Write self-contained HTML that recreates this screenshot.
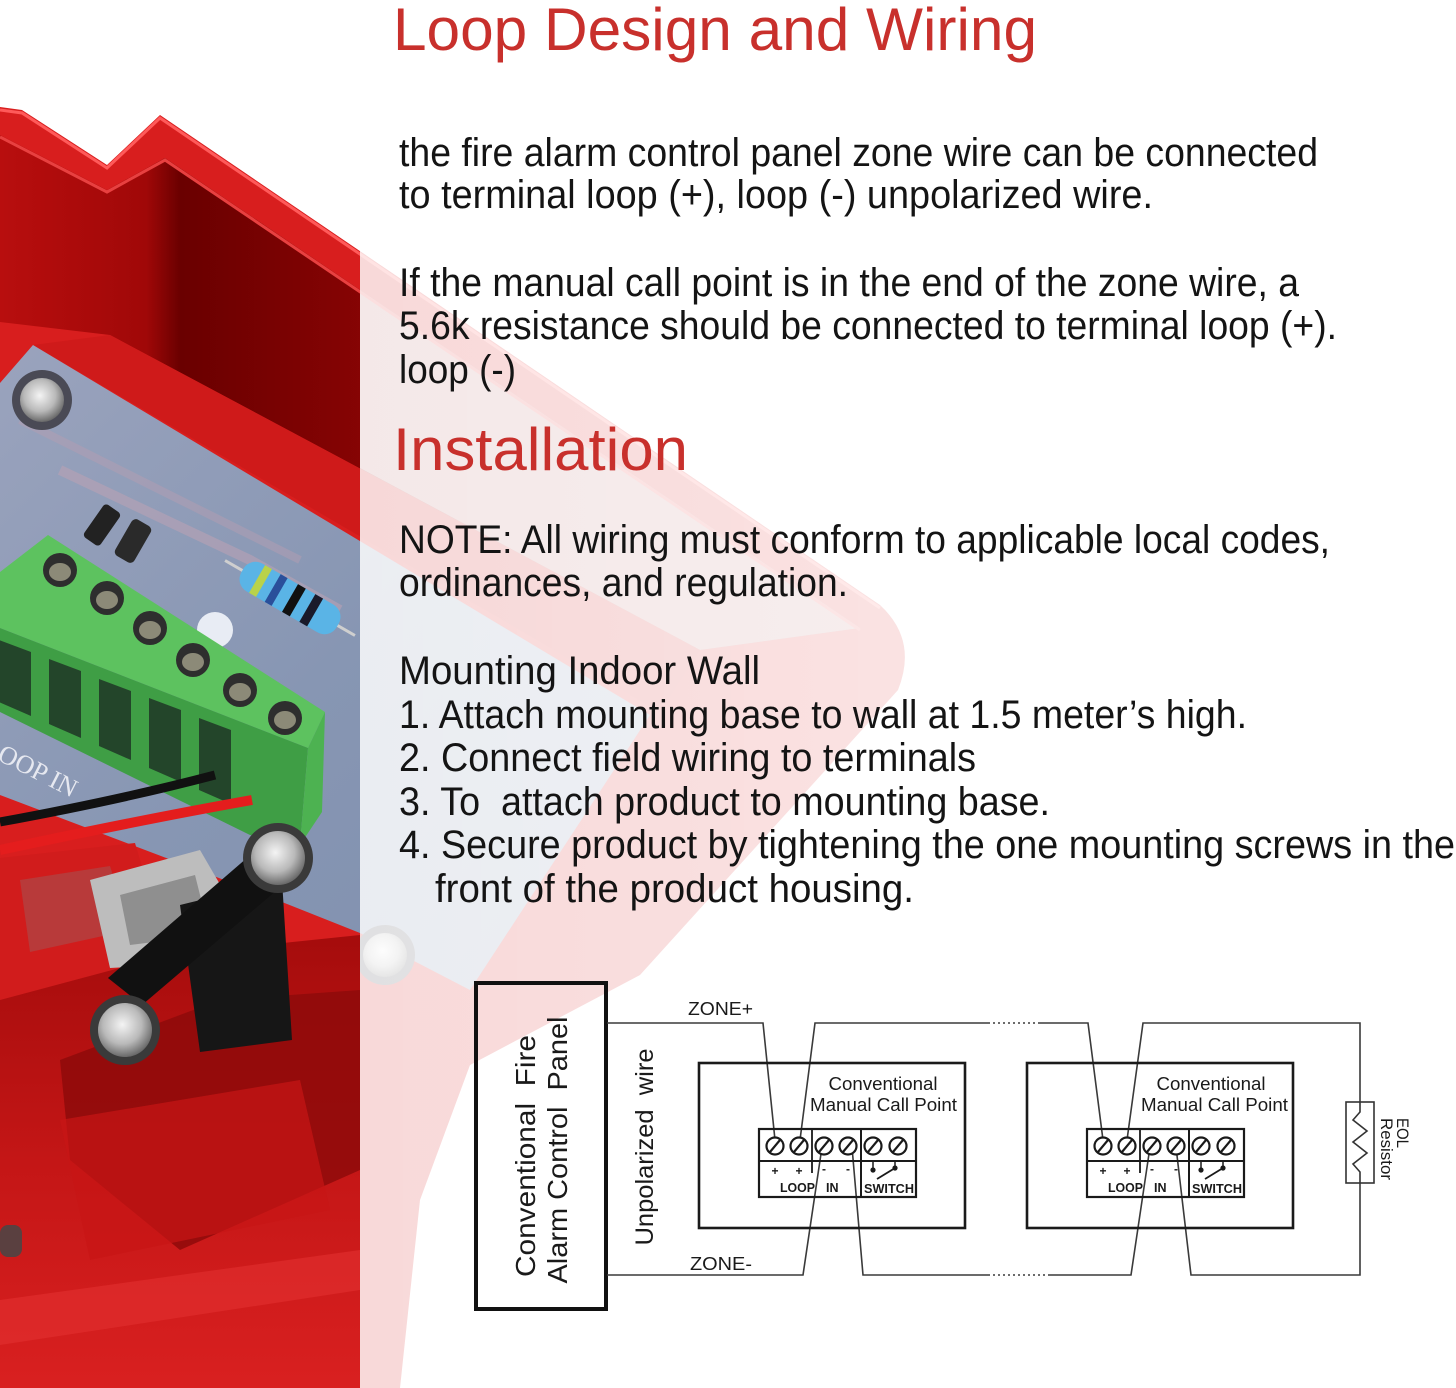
<!DOCTYPE html>
<html>
<head>
<meta charset="utf-8">
<style>
  html,body{margin:0;padding:0;background:#fff;}
  svg{display:block;}
  .body{font-family:"Liberation Sans",sans-serif;font-size:40px;fill:#141414;}
  .head{font-family:"Liberation Sans",sans-serif;font-size:60px;fill:#c8302c;}
  .dg{font-family:"Liberation Sans",sans-serif;fill:#1a1a1a;}
</style>
</head>
<body>
<svg width="1456" height="1388" viewBox="0 0 1456 1388" xmlns="http://www.w3.org/2000/svg">
  <defs>
    <linearGradient id="wallG" x1="0" y1="0" x2="1" y2="0">
      <stop offset="0" stop-color="#b80e0e"/>
      <stop offset="0.17" stop-color="#a00808"/>
      <stop offset="0.21" stop-color="#6a0000"/>
      <stop offset="0.45" stop-color="#8a0404"/>
      <stop offset="1" stop-color="#a60a0a"/>
    </linearGradient>
    <linearGradient id="pcbG" x1="0" y1="0" x2="1" y2="1">
      <stop offset="0" stop-color="#9aa3bd"/>
      <stop offset="0.5" stop-color="#8796b3"/>
      <stop offset="1" stop-color="#7f8fae"/>
    </linearGradient>
    <radialGradient id="screwG" cx="0.45" cy="0.4" r="0.6">
      <stop offset="0" stop-color="#f4f4f4"/>
      <stop offset="0.6" stop-color="#b9b9b9"/>
      <stop offset="1" stop-color="#6a6a6a"/>
    </radialGradient>
    <linearGradient id="lowG" x1="0" y1="0" x2="0" y2="1">
      <stop offset="0" stop-color="#a50c0c"/>
      <stop offset="0.5" stop-color="#c41616"/>
      <stop offset="1" stop-color="#d92020"/>
    </linearGradient>
    <linearGradient id="fadeG" x1="360" y1="0" x2="1000" y2="0" gradientUnits="userSpaceOnUse">
      <stop offset="0" stop-color="#ffffff" stop-opacity="0.83"/>
      <stop offset="1" stop-color="#ffffff" stop-opacity="0.88"/>
    </linearGradient>
  </defs>

  <rect x="0" y="0" width="1456" height="1388" fill="#ffffff"/>

  <!-- ================= PHOTO (approximation) ================= -->
  <path d="M0,107 L22,110 L107,165 L160,115 L880,605 Q918,640 898,690 L640,975 L470,1065 L420,1200 L400,1388 L0,1388 Z" fill="#d81e1e"/>
  <polygon points="0,135 107,190 165,158 860,628 700,650 110,335 0,322" fill="url(#wallG)"/>
  <polygon points="360,290 860,628 700,650 360,468" fill="#c07a7a"/>
  <polyline points="0,110 22,113 107,168 160,118 880,608" fill="none" stroke="#ff5a5a" stroke-width="3"/>
  <polyline points="0,137 107,192 165,160 860,630" fill="none" stroke="#e84040" stroke-width="3"/>
  <polygon points="110,335 700,650 660,712 33,345" fill="#cf1a1a"/>
  <!-- PCB -->
  <polygon points="33,345 650,715 470,990 360,933 277,900 0,795 0,383" fill="url(#pcbG)"/>
  <polyline points="60,470 250,560 340,610" fill="none" stroke="#b9a2b4" stroke-width="10" opacity="0.6"/>
  <polyline points="20,420 300,560" fill="none" stroke="#b49db2" stroke-width="8" opacity="0.5"/>
  <circle cx="42" cy="400" r="30" fill="#4a4a55"/>
  <circle cx="42" cy="400" r="22" fill="url(#screwG)"/>
  <circle cx="385" cy="955" r="30" fill="#4a4a55"/>
  <circle cx="385" cy="955" r="22" fill="url(#screwG)"/>
  <rect x="82" y="515" width="40" height="20" rx="4" fill="#222" transform="rotate(-55 102 525)"/>
  <rect x="112" y="530" width="42" height="22" rx="5" fill="#2a2a2a" transform="rotate(-60 133 541)"/>
  <g transform="rotate(30 290 598)">
    <line x1="215" y1="598" x2="365" y2="598" stroke="#cfcfcf" stroke-width="3"/>
    <rect x="235" y="582" width="110" height="32" rx="14" fill="#5ab4e6"/>
    <rect x="252" y="582" width="8" height="32" fill="#b9d24a"/>
    <rect x="270" y="582" width="8" height="32" fill="#2a4f9a"/>
    <rect x="290" y="582" width="9" height="32" fill="#111"/>
    <rect x="310" y="582" width="9" height="32" fill="#1a1a2a"/>
  </g>
  <circle cx="215" cy="630" r="18" fill="#e8ecf4"/>
  <!-- green terminal block -->
  <polygon points="48,535 325,712 308,748 0,628 0,572" fill="#5dc25f"/>
  <polygon points="0,628 308,748 300,845 250,835 0,712" fill="#3f9e45"/>
  <polygon points="308,748 325,712 322,812 300,845" fill="#4db251"/>
  <polygon points="-1,640 31,652 31,716 -1,702" fill="#23452a"/>
  <polygon points="49,659 81,671 81,738 49,724" fill="#23452a"/>
  <polygon points="99,679 131,691 131,760 99,746" fill="#23452a"/>
  <polygon points="149,698 181,710 181,782 149,768" fill="#23452a"/>
  <polygon points="199,718 231,730 231,804 199,790" fill="#23452a"/>
  <g fill="#2e2e2e">
    <circle cx="60" cy="570" r="17"/><circle cx="107" cy="598" r="17"/><circle cx="150" cy="628" r="17"/>
    <circle cx="193" cy="660" r="17"/><circle cx="240" cy="690" r="17"/><circle cx="285" cy="718" r="17"/>
  </g>
  <g fill="#8c8a78">
    <ellipse cx="60" cy="572" rx="11" ry="9"/><ellipse cx="107" cy="600" rx="11" ry="9"/><ellipse cx="150" cy="630" rx="11" ry="9"/>
    <ellipse cx="193" cy="662" rx="11" ry="9"/><ellipse cx="240" cy="692" rx="11" ry="9"/><ellipse cx="285" cy="720" rx="11" ry="9"/>
  </g>
  <text transform="translate(-18,752) rotate(27)" font-family="Liberation Serif,serif" font-size="26" fill="#e6e8f0">LOOP  IN</text>
  <path d="M0,822 Q120,800 215,775" fill="none" stroke="#111" stroke-width="9"/>
  <path d="M0,850 Q150,818 252,800" fill="none" stroke="#e41d1d" stroke-width="10"/>
  <polygon points="0,858 135,843 168,955 0,1000" fill="#d11c1c"/>
  <polygon points="20,880 110,866 130,930 30,952" fill="#b83a3a"/>
  <polygon points="90,880 200,850 232,905 220,962 110,968" fill="#bdbdbd"/>
  <polygon points="120,895 195,875 210,935 130,945" fill="#8f8f8f"/>
  <polygon points="0,1000 168,955 360,935 360,1388 0,1388" fill="url(#lowG)"/>
  <polygon points="60,1060 220,1000 360,990 360,1170 180,1250 70,1160" fill="#8e0b0b" opacity="0.85"/>
  <polygon points="60,1120 300,1080 330,1210 90,1260" fill="#c81616" opacity="0.7"/>
  <rect x="0" y="1225" width="22" height="32" rx="8" fill="#5a4040"/>
  <polygon points="0,1300 360,1250 360,1290 0,1345" fill="#e23030" opacity="0.6"/>
  <polygon points="180,905 282,880 292,1040 200,1052" fill="#161616"/>
  <polygon points="262,845 298,872 142,1005 108,978" fill="#111"/>
  <circle cx="278" cy="858" r="35" fill="#3a3a3a"/>
  <circle cx="278" cy="858" r="27" fill="url(#screwG)"/>
  <circle cx="125" cy="1030" r="35" fill="#3a3a3a"/>
  <circle cx="125" cy="1030" r="27" fill="url(#screwG)"/>

  <!-- fade overlay -->
  <rect x="360" y="0" width="1096" height="1388" fill="url(#fadeG)"/>

  <!-- ================= TEXT ================= -->
  <text class="head" x="393" y="50" textLength="644" lengthAdjust="spacingAndGlyphs">Loop Design and Wiring</text>

  <text class="body" x="399" y="166" textLength="919" lengthAdjust="spacingAndGlyphs">the fire alarm control panel zone wire can be connected</text>
  <text class="body" x="399" y="208" textLength="754" lengthAdjust="spacingAndGlyphs">to terminal loop (+), loop (-) unpolarized wire.</text>
  <text class="body" x="399" y="296" textLength="900" lengthAdjust="spacingAndGlyphs">If the manual call point is in the end of the zone wire, a</text>
  <text class="body" x="399" y="339" textLength="938" lengthAdjust="spacingAndGlyphs">5.6k resistance should be connected to terminal loop (+).</text>
  <text class="body" x="399" y="383" textLength="117" lengthAdjust="spacingAndGlyphs">loop (-)</text>

  <text class="head" x="393" y="470" textLength="295" lengthAdjust="spacingAndGlyphs">Installation</text>

  <text class="body" x="399" y="553" textLength="931" lengthAdjust="spacingAndGlyphs">NOTE: All wiring must conform to applicable local codes,</text>
  <text class="body" x="399" y="596" textLength="449" lengthAdjust="spacingAndGlyphs">ordinances, and regulation.</text>

  <text class="body" x="399" y="684" textLength="361" lengthAdjust="spacingAndGlyphs">Mounting Indoor Wall</text>
  <text class="body" x="399" y="728" textLength="848" lengthAdjust="spacingAndGlyphs">1. Attach mounting base to wall at 1.5 meter’s high.</text>
  <text class="body" x="399" y="771" textLength="577" lengthAdjust="spacingAndGlyphs">2. Connect field wiring to terminals</text>
  <text class="body" x="399" y="815" textLength="651" lengthAdjust="spacingAndGlyphs" style="white-space:pre">3. To  attach product to mounting base.</text>
  <text class="body" x="399" y="858" textLength="1056" lengthAdjust="spacingAndGlyphs">4. Secure product by tightening the one mounting screws in the</text>
  <text class="body" x="435" y="902" textLength="479" lengthAdjust="spacingAndGlyphs">front of the product housing.</text>

  <!-- ================= DIAGRAM ================= -->
  <rect x="476" y="983" width="130" height="326" fill="none" stroke="#111" stroke-width="4"/>
  <text class="dg" transform="translate(535,1156) rotate(-90)" font-size="28" text-anchor="middle" textLength="242" lengthAdjust="spacingAndGlyphs" style="white-space:pre">Conventional  Fire</text>
  <text class="dg" transform="translate(567,1150) rotate(-90)" font-size="28" text-anchor="middle" textLength="267" lengthAdjust="spacingAndGlyphs" style="white-space:pre">Alarm Control  Panel</text>
  <text class="dg" transform="translate(653,1147) rotate(-90)" font-size="25" text-anchor="middle" textLength="197" lengthAdjust="spacingAndGlyphs" style="white-space:pre">Unpolarized  wire</text>

  <text class="dg" x="688" y="1015" font-size="18.5" textLength="65" lengthAdjust="spacingAndGlyphs">ZONE+</text>
  <text class="dg" x="690" y="1270" font-size="18.5" textLength="62" lengthAdjust="spacingAndGlyphs">ZONE-</text>

  <g fill="none" stroke="#3a3a3a" stroke-width="1.6">
    <polyline points="607,1023 763,1023 775,1140"/>
    <polyline points="800,1140 815,1023 988,1023"/>
    <line x1="988" y1="1023" x2="1040" y2="1023" stroke-dasharray="2,3"/>
    <polyline points="1040,1023 1088,1023 1103,1140"/>
    <polyline points="1127,1140 1143,1023 1360,1023 1360,1102"/>
    <polyline points="1360,1183 1360,1275 1191,1275 1176,1147"/>
    <polyline points="607,1275 803,1275 822,1147"/>
    <polyline points="852,1147 863,1275 988,1275"/>
    <line x1="988" y1="1275" x2="1050" y2="1275" stroke-dasharray="2,3"/>
    <polyline points="1050,1275 1131,1275 1150,1147"/>
  </g>

  <rect x="1346" y="1102" width="28" height="81" fill="none" stroke="#333" stroke-width="1.6"/>
  <polyline points="1360,1102 1360,1112 1353,1120 1367,1131 1353,1142 1367,1153 1353,1164 1360,1172 1360,1183" fill="none" stroke="#333" stroke-width="1.6"/>
  <text class="dg" transform="translate(1397,1118) rotate(90)" font-size="17" textLength="30" lengthAdjust="spacingAndGlyphs">EOL</text>
  <text class="dg" transform="translate(1381,1118) rotate(90)" font-size="17" textLength="62" lengthAdjust="spacingAndGlyphs">Resistor</text>

  <g>
    <rect x="699" y="1063" width="266" height="165" fill="none" stroke="#1a1a1a" stroke-width="2.6"/>
    <text class="dg" x="883" y="1090" font-size="18" text-anchor="middle" textLength="109" lengthAdjust="spacingAndGlyphs">Conventional</text>
    <text class="dg" x="810" y="1111" font-size="18" textLength="147" lengthAdjust="spacingAndGlyphs">Manual Call Point</text>
    <rect x="759" y="1129" width="157" height="68" fill="none" stroke="#1a1a1a" stroke-width="2.2"/>
    <line x1="759" y1="1161" x2="916" y2="1161" stroke="#1a1a1a" stroke-width="2"/>
    <line x1="861" y1="1129" x2="861" y2="1197" stroke="#1a1a1a" stroke-width="2"/>
    <line x1="812" y1="1129" x2="812" y2="1173" stroke="#1a1a1a" stroke-width="1.8"/>
    <g fill="#fff" stroke="#1a1a1a" stroke-width="2.2">
      <circle cx="775" cy="1146" r="8.5"/><circle cx="799" cy="1146" r="8.5"/><circle cx="824" cy="1146" r="8.5"/>
      <circle cx="848" cy="1146" r="8.5"/><circle cx="873" cy="1146" r="8.5"/><circle cx="898" cy="1146" r="8.5"/>
    </g>
    <g stroke="#1a1a1a" stroke-width="2.2">
      <line x1="770" y1="1152" x2="780" y2="1140"/><line x1="794" y1="1152" x2="804" y2="1140"/>
      <line x1="819" y1="1152" x2="829" y2="1140"/><line x1="843" y1="1152" x2="853" y2="1140"/>
      <line x1="868" y1="1152" x2="878" y2="1140"/><line x1="893" y1="1152" x2="903" y2="1140"/>
    </g>
    <text class="dg" x="775" y="1175" font-size="12" font-weight="bold" text-anchor="middle">+</text>
    <text class="dg" x="799" y="1175" font-size="12" font-weight="bold" text-anchor="middle">+</text>
    <text class="dg" x="824" y="1173" font-size="12" font-weight="bold" text-anchor="middle">-</text>
    <text class="dg" x="848" y="1173" font-size="12" font-weight="bold" text-anchor="middle">-</text>
    <line x1="873" y1="1161" x2="873" y2="1169" stroke="#1a1a1a" stroke-width="1.5"/>
    <line x1="895" y1="1161" x2="895" y2="1168" stroke="#1a1a1a" stroke-width="1.5"/>
    <circle cx="873" cy="1170" r="2.6" fill="#1a1a1a"/>
    <circle cx="895" cy="1168" r="2.6" fill="#1a1a1a"/>
    <line x1="877" y1="1179" x2="895" y2="1168" stroke="#1a1a1a" stroke-width="1.8"/>
    <text class="dg" x="780" y="1192" font-size="12.5" font-weight="bold" textLength="35" lengthAdjust="spacingAndGlyphs">LOOP</text>
    <text class="dg" x="826" y="1192" font-size="12.5" font-weight="bold">IN</text>
    <text class="dg" x="864" y="1193" font-size="12.5" font-weight="bold" textLength="50" lengthAdjust="spacingAndGlyphs">SWITCH</text>
  </g>
  <g transform="translate(328,0)">
    <rect x="699" y="1063" width="266" height="165" fill="none" stroke="#1a1a1a" stroke-width="2.6"/>
    <text class="dg" x="883" y="1090" font-size="18" text-anchor="middle" textLength="109" lengthAdjust="spacingAndGlyphs">Conventional</text>
    <text class="dg" x="813" y="1111" font-size="18" textLength="147" lengthAdjust="spacingAndGlyphs">Manual Call Point</text>
    <rect x="759" y="1129" width="157" height="68" fill="none" stroke="#1a1a1a" stroke-width="2.2"/>
    <line x1="759" y1="1161" x2="916" y2="1161" stroke="#1a1a1a" stroke-width="2"/>
    <line x1="861" y1="1129" x2="861" y2="1197" stroke="#1a1a1a" stroke-width="2"/>
    <line x1="812" y1="1129" x2="812" y2="1173" stroke="#1a1a1a" stroke-width="1.8"/>
    <g fill="#fff" stroke="#1a1a1a" stroke-width="2.2">
      <circle cx="775" cy="1146" r="8.5"/><circle cx="799" cy="1146" r="8.5"/><circle cx="824" cy="1146" r="8.5"/>
      <circle cx="848" cy="1146" r="8.5"/><circle cx="873" cy="1146" r="8.5"/><circle cx="898" cy="1146" r="8.5"/>
    </g>
    <g stroke="#1a1a1a" stroke-width="2.2">
      <line x1="770" y1="1152" x2="780" y2="1140"/><line x1="794" y1="1152" x2="804" y2="1140"/>
      <line x1="819" y1="1152" x2="829" y2="1140"/><line x1="843" y1="1152" x2="853" y2="1140"/>
      <line x1="868" y1="1152" x2="878" y2="1140"/><line x1="893" y1="1152" x2="903" y2="1140"/>
    </g>
    <text class="dg" x="775" y="1175" font-size="12" font-weight="bold" text-anchor="middle">+</text>
    <text class="dg" x="799" y="1175" font-size="12" font-weight="bold" text-anchor="middle">+</text>
    <text class="dg" x="824" y="1173" font-size="12" font-weight="bold" text-anchor="middle">-</text>
    <text class="dg" x="848" y="1173" font-size="12" font-weight="bold" text-anchor="middle">-</text>
    <line x1="873" y1="1161" x2="873" y2="1169" stroke="#1a1a1a" stroke-width="1.5"/>
    <line x1="895" y1="1161" x2="895" y2="1168" stroke="#1a1a1a" stroke-width="1.5"/>
    <circle cx="873" cy="1170" r="2.6" fill="#1a1a1a"/>
    <circle cx="895" cy="1168" r="2.6" fill="#1a1a1a"/>
    <line x1="877" y1="1179" x2="895" y2="1168" stroke="#1a1a1a" stroke-width="1.8"/>
    <text class="dg" x="780" y="1192" font-size="12.5" font-weight="bold" textLength="35" lengthAdjust="spacingAndGlyphs">LOOP</text>
    <text class="dg" x="826" y="1192" font-size="12.5" font-weight="bold">IN</text>
    <text class="dg" x="864" y="1193" font-size="12.5" font-weight="bold" textLength="50" lengthAdjust="spacingAndGlyphs">SWITCH</text>
  </g>
</svg>
</body>
</html>
